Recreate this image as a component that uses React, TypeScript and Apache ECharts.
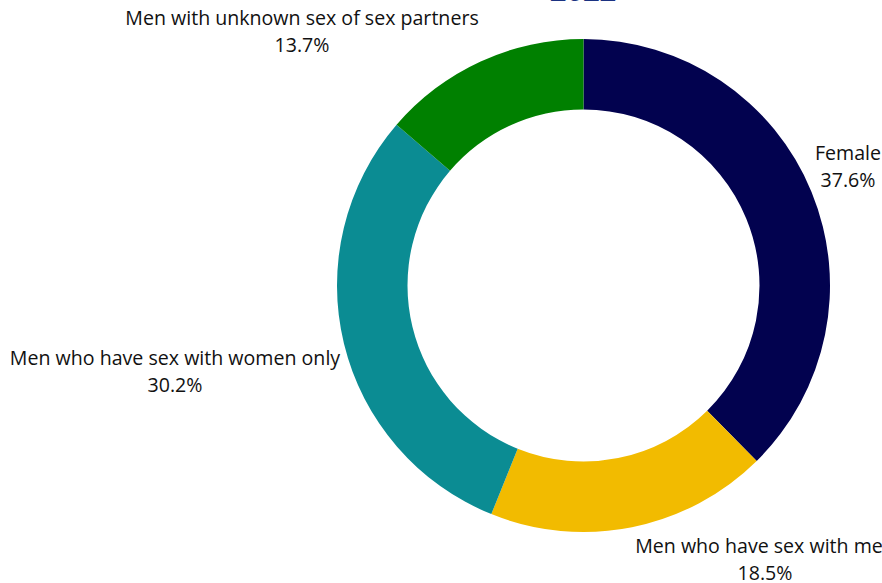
import React, { useEffect, useRef } from "react";
import * as echarts from "echarts";

const titleText = "2022";
const categories = [
  "Female",
  "Men who have sex with men",
  "Men who have sex with women only",
  "Men with unknown sex of sex partners",
];
const shares = [37.6, 18.5, 30.2, 13.7];
const colors = ["#02024F", "#F2BB00", "#0B8C93", "#008000"];

// label anchor centres (chart coordinates), layout only
const labelAnchors: [number, number][] = [
  [848, 205.5],
  [765, 599],
  [175, 410.5],
  [302, 71],
];

const OFFSET = 40;

export default function App() {
  const ref = useRef<HTMLDivElement>(null);
  useEffect(() => {
    if (!ref.current) return;
    const chart = echarts.init(ref.current, undefined, { renderer: "svg" });
    chart.setOption({
      animation: false,
      backgroundColor: "#ffffff",
      title: {
        text: titleText,
        left: 583,
        textAlign: "center",
        top: 15,
        padding: 0,
        textStyle: {
          fontFamily: "Open Sans",
          fontWeight: "bold",
          fontSize: 29,
          color: "#1B3281",
        },
      },
      series: [
        {
          type: "pie",
          center: [583.5, 285.5 + OFFSET],
          radius: [176, 246.5],
          startAngle: 90,
          clockwise: true,
          avoidLabelOverlap: false,
          percentPrecision: 1,
          label: {
            show: true,
            position: "outside",
            formatter: "{b}\n{d}%",
            fontFamily: "Open Sans",
            fontSize: 19.6,
            lineHeight: 27,
            color: "#111111",
          },
          labelLine: { show: false },
          labelLayout: (params: any) => {
            const p = labelAnchors[params.dataIndex];
            return { x: p[0], y: p[1], align: "center", verticalAlign: "middle" };
          },
          emphasis: { disabled: true },
          itemStyle: { borderWidth: 0 },
          data: categories.map((name, i) => ({
            name,
            value: shares[i],
            itemStyle: { color: colors[i] },
          })),
        },
      ],
    });
    return () => chart.dispose();
  }, []);
  return (
    <div
      ref={ref}
      style={{
        position: "absolute",
        left: 0,
        top: -OFFSET,
        width: 882,
        height: 583 + OFFSET,
      }}
    />
  );
}
